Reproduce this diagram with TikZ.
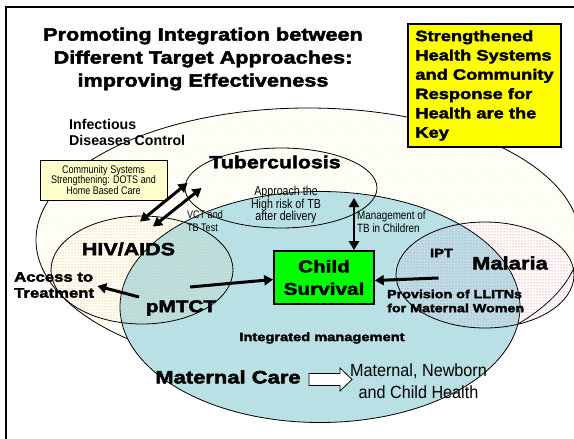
\documentclass[tikz,border=0pt]{standalone}
\usepackage{fontspec}
\setmainfont{Liberation Sans}
\newfontfamily\heavyfont{Liberation Sans}[UprightFont={* Bold},FakeStretch=1.22,FakeBold=2.5]
\newfontfamily\narrowfont{Liberation Sans}[FakeStretch=0.82]
\newfontfamily\semifont{Liberation Sans}[FakeStretch=0.92]
\usetikzlibrary{shapes.geometric,patterns,arrows.meta}
\definecolor{mcblue}{RGB}{185,224,228}
\definecolor{keyyellow}{RGB}{255,255,0}
\definecolor{csbox}{RGB}{255,255,204}
\definecolor{csgreen}{RGB}{0,255,0}
\definecolor{idcdot}{RGB}{250,238,120}
\definecolor{hivdot}{RGB}{250,170,60}
\definecolor{maldot}{RGB}{240,90,190}
\newcommand{\hvy}[2]{\heavyfont\fontsize{#1}{#2}\selectfont}
\newcommand{\nrw}[2]{\narrowfont\fontsize{#1}{#2}\selectfont}
\newcommand{\smi}[2]{\semifont\fontsize{#1}{#2}\selectfont}
\begin{document}
\begin{tikzpicture}[x=1pt,y=-1pt,
    ell/.style={ellipse,draw,line width=0.8pt,inner sep=0},
    lbl/.style={inner sep=0,align=center},
    fat/.style={line width=3pt,-{Triangle[length=9pt,width=10pt]}},
    fatboth/.style={line width=3pt,{Triangle[length=9pt,width=10pt]}-{Triangle[length=9pt,width=10pt]}}]
  \clip (0,0) rectangle (574,439);
  \fill[white] (0,0) rectangle (574,439);
  \draw[line width=2pt] (6,445) -- (6,7) -- (580,7);
  \node[ell,pattern=dots,pattern color=idcdot,minimum width=544,minimum height=264] (idc) at (308,240) {};
  \node[ell,fill=mcblue,minimum width=400,minimum height=231] (mc) at (320,307) {};
  \node[ell,pattern=dots,pattern color=hivdot,minimum width=182,minimum height=108] (hiv) at (142,270) {};
  \node[ell,pattern=dots,pattern color=maldot,minimum width=178,minimum height=106] (mal) at (485,275) {};
  \node[ell,minimum width=192,minimum height=80] (tb) at (281,188) {};
  \node[lbl,font=\hvy{17.8}{23}] (title) at (203,59) {Promoting Integration between\\Different Target Approaches:\\improving Effectiveness};
  \node[draw,line width=1.6pt,fill=keyyellow,minimum width=153,minimum height=123,inner sep=0,align=left,font=\hvy{15}{19.3}] (key) at (484.5,85.5) {Strengthened\\Health Systems\\and Community\\Response for\\Health are the\\Key};
  \node[lbl,anchor=west,align=left,font=\bfseries\fontsize{14.2}{16}\selectfont] (idclbl) at (69,132) {Infectious\\Diseases Control};
  \node[draw,line width=0.8pt,fill=csbox,minimum width=127,minimum height=40,inner sep=0,align=center,font=\nrw{11}{10.5}] (cs) at (103.5,180) {Community Systems\\Strengthening: DOTS and\\Home Based Care};
  \node[lbl,font=\hvy{17.5}{20}] (tblbl) at (275,162) {Tuberculosis};
  \node[lbl,font=\nrw{13}{12.5}] (appr) at (286,205) {Approach the\\High risk of TB\\after delivery};
  \node[lbl,anchor=west,align=left,font=\nrw{11}{13}] (vct) at (187,221.5) {VCT and\\TB Test};
  \node[lbl,anchor=west,align=left,font=\nrw{12}{13}] (mgmt) at (357,221.5) {Management of\\TB in Children};
  \node[draw,line width=1.6pt,fill=csgreen,minimum width=100,minimum height=53,inner sep=0,align=center,font=\hvy{17}{22.5}] (child) at (324,277.5) {Child\\Survival};
  \node[lbl,font=\hvy{17.6}{20}] (hivlbl) at (128.5,249) {HIV/AIDS};
  \node[lbl,font=\hvy{17}{20}] (pm) at (181,308) {pMTCT};
  \node[lbl,anchor=west,align=left,font=\hvy{13.7}{16}] (acc) at (14,285) {Access to\\Treatment};
  \node[lbl,font=\hvy{12}{14}] (ipt) at (441.5,253) {IPT};
  \node[lbl,font=\hvy{18}{20}] (mallbl) at (510,263) {Malaria};
  \node[lbl,anchor=west,align=left,font=\hvy{11.7}{14}] (prov) at (387,301) {Provision of LLITNs\\for Maternal Women};
  \node[lbl,font=\hvy{12}{14}] (integ) at (322,338) {Integrated management};
  \node[lbl,font=\hvy{18}{20}] (mcare) at (228,377) {Maternal Care};
  \node[lbl,font=\smi{17.6}{22}] (mnch) at (418.5,381) {Maternal, Newborn\\and Child Health};
  \draw[fatboth] ([shift={(-2,6)}]hiv.north) -- ([shift={(3,-5)}]tb.west);
  \draw[fatboth] ([shift={(11,11)}]hiv.north) -- ([shift={(17,0)}]tb.west);
  \draw[fatboth,line width=2.2pt] ([xshift=30]child.north) -- ([shift={(73,10)}]tb.center);
  \draw[fat] ([shift={(9,-21)}]pm.center) -- ([yshift=-2]child.west);
  \draw[fat] ([shift={(-42,-11)}]pm.center) -- ([shift={(3,1)}]acc.east);
  \draw[fat] ([shift={(-3,25)}]ipt.center) -- ([yshift=-3]child.east);
  \coordinate (ba) at (309,379.5);
  \draw[fill=white,line width=0.8pt] (ba) ++(0,-6) -- ++(31,0) -- ++(0,-5.5) -- ++(12,11.5) -- ++(-12,11.5) -- ++(0,-5.5) -- ++(-31,0) -- cycle;
\end{tikzpicture}
\end{document}
